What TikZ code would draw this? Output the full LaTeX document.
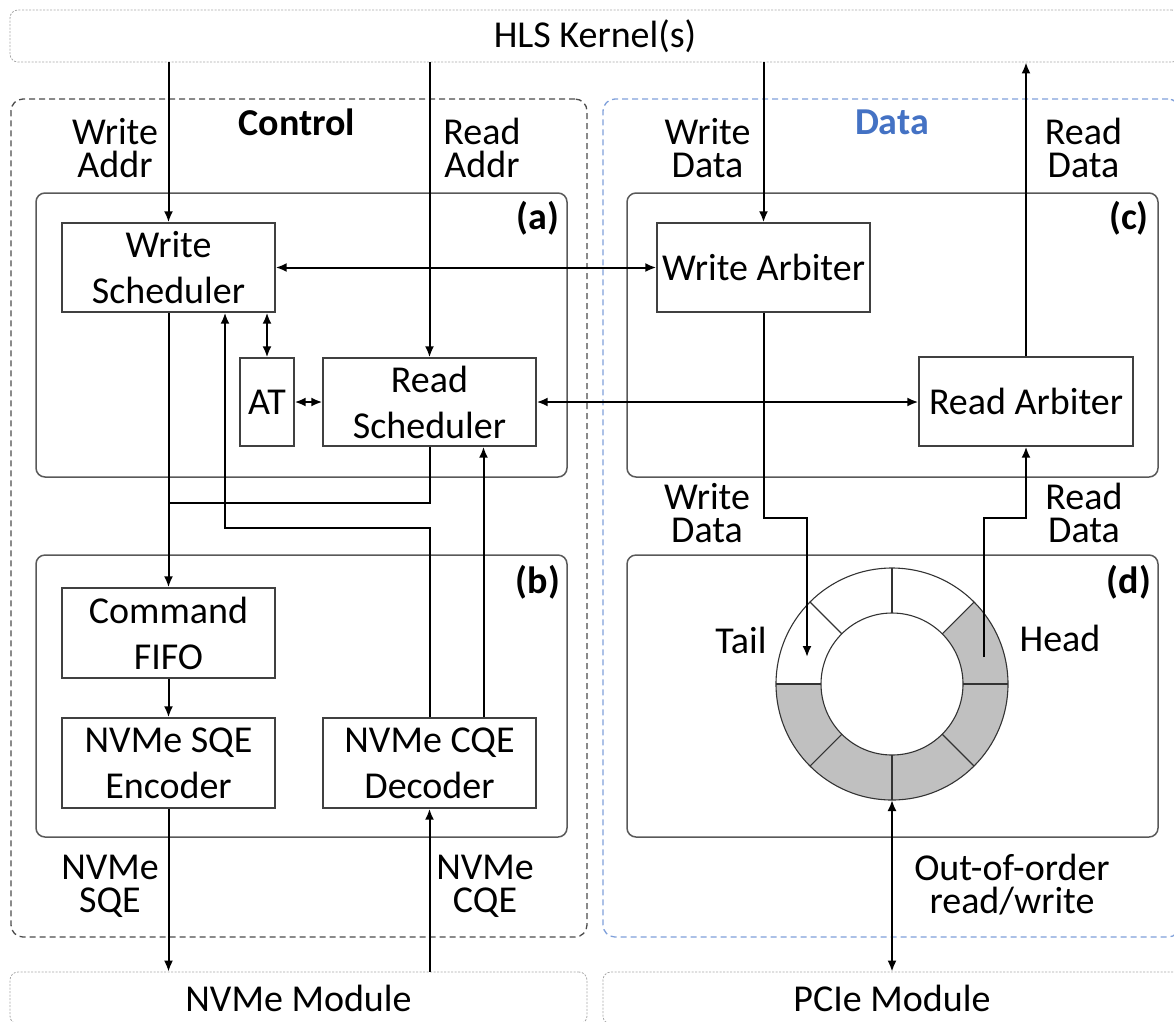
\documentclass[tikz,border=0pt]{standalone}
\usepackage{fontspec}
\setmainfont{Carlito}
\usetikzlibrary{arrows.meta}
\definecolor{dblue}{HTML}{4472C4}
\definecolor{lblue}{HTML}{7FA0DA}
\definecolor{ringgray}{HTML}{C0C0C0}
\begin{document}
\begin{tikzpicture}[x=1pt,y=-1pt,
  bar/.style={draw=black!35, dash pattern=on 2pt off 1.5pt, line width=0.8pt, rounded corners=8pt, inner sep=0pt, font=\fontsize{38}{46}\selectfont},
  ctrlbox/.style={draw=black!70, dash pattern=on 6pt off 4pt, line width=1.3pt, rounded corners=12pt, minimum width=576pt, minimum height=838pt, inner sep=0pt},
  databox/.style={draw=lblue, dash pattern=on 6pt off 4pt, line width=1.3pt, rounded corners=12pt, minimum width=577pt, minimum height=838pt, inner sep=0pt},
  grp/.style={draw=black!65, line width=1.5pt, rounded corners=9pt, minimum width=531pt, inner sep=0pt},
  blk/.style={draw=black!75, line width=1.4pt, fill=white, inner sep=0pt, minimum width=213pt, minimum height=89pt, align=center, font=\fontsize{38}{46}\selectfont},
  lbl/.style={align=center, inner sep=0pt, font=\fontsize{38}{33}\selectfont},
  title/.style={inner sep=0pt, font=\fontsize{38}{46}\selectfont\bfseries},
  tag/.style={inner sep=0pt, font=\fontsize{38}{46}\selectfont\bfseries},
  arr/.style={line width=2pt, -{Latex[length=11pt,width=9pt]}},
  darr/.style={line width=2pt, {Latex[length=11pt,width=9pt]}-{Latex[length=11pt,width=9pt]}},
  ln/.style={line width=2pt},
  ringline/.style={draw=black!80, line width=1.1pt}
]
\useasboundingbox (0,0) rectangle (1174,1021);

% outer bars
\node[bar, minimum width=1170pt, minimum height=52pt] (hls) at (595,36) {HLS Kernel(s)};
\node[bar, minimum width=577pt, minimum height=52pt] (nvme) at (298.5,998) {NVMe Module};
\node[bar, minimum width=578pt, minimum height=52pt] (pcie) at (892,998) {PCIe Module};

% dashed regions
\node[ctrlbox] (ctrl) at (299,518) {};
\node[databox] (data) at (891.5,518) {};
\node[title] (ctrlt) at (297,122) {Control};
\node[title, text=dblue] (datat) at (892,122) {Data};

% groups
\node[grp, minimum height=284pt] (ga) at (301.5,335) {};
\node[grp, minimum height=282pt] (gb) at (301.5,696) {};
\node[grp, minimum height=284pt] (gc) at (892.5,335) {};
\node[grp, minimum height=282pt] (gd) at (892.5,696) {};
\node[tag] (ta) at (538,218) {(a)};
\node[tag] (tb) at (538,582) {(b)};
\node[tag] (tc) at (1129,218) {(c)};
\node[tag] (td) at (1129,582) {(d)};

% blocks
\node[blk] (ws) at (168.5,267.5) {Write\\Scheduler};
\node[blk, minimum width=54pt, minimum height=88pt] (at) at (267,402) {AT};
\node[blk, minimum height=88pt] (rs) at (429.5,402) {Read\\Scheduler};
\node[blk, minimum height=90pt] (cf) at (168.5,633) {Command\\FIFO};
\node[blk, minimum height=90pt] (sqe) at (168.5,763) {NVMe SQE\\Encoder};
\node[blk, minimum height=90pt] (cqe) at (429.5,763) {NVMe CQE\\Decoder};
\node[blk] (wa) at (763.5,267.5) {Write Arbiter};
\node[blk, minimum width=214pt] (ra) at (1026,401.5) {Read Arbiter};

% labels
\node[lbl] (lwa) at (115,148) {Write\\Addr};
\node[lbl] (lra) at (482,148) {Read\\Addr};
\node[lbl] (lwd) at (707.5,148) {Write\\Data};
\node[lbl] (lrd) at (1083.5,148) {Read\\Data};
\node[lbl] (lwd2) at (707,513) {Write\\Data};
\node[lbl] (lrd2) at (1084,513) {Read\\Data};
\node[lbl] (lsqe) at (110,886) {NVMe\\SQE};
\node[lbl] (lcqe) at (485,886) {NVMe\\CQE};
\node[lbl] (looo) at (1012,885) {Out-of-order\\read/write};
\node[lbl] (ltail) at (741,640) {Tail};
\node[lbl] (lhead) at (1060,638) {Head};

% ring buffer
\begin{scope}[shift={(892,684)}, yscale=-1]
  \fill[ringgray] (180:116) arc[start angle=180, end angle=405, radius=116] -- (405:71) arc[start angle=405, end angle=180, radius=71] -- cycle;
  \draw[ringline] (0,0) circle[radius=116];
  \draw[ringline] (0,0) circle[radius=71];
  \foreach \a in {0,45,...,315} \draw[ringline] (\a:71) -- (\a:116);
\end{scope}
\coordinate (tail) at (807,657);
\coordinate (head) at (984,657);
\coordinate (ringb) at (892,800);

% connectors
\draw[arr] (hls.south -| ws.north) -- (ws.north);
\draw[arr] (hls.south -| rs.north) -- (rs.north);
\draw[arr] (hls.south -| wa.north) -- (wa.north);
\draw[arr] (ra.north) -- (hls.south -| ra.north);
\draw[darr] (ws.east) -- (wa.west);
\draw[darr] (ws.south -| at.north) -- (at.north);
\draw[darr] (at.east) -- (rs.west);
\draw[darr] (rs.east) -- (rs.east -| ra.west);

\coordinate (j1) at (168.5,503);
\draw[arr] (ws.south) -- (cf.north);
\draw[ln] (rs.south) |- (j1);
\coordinate (k1) at (225,528);
\draw[arr] (cqe.north) |- (k1) -- (k1 |- ws.south);
\coordinate (m1) at (483.5,0);
\draw[arr] (cqe.north -| m1) -- (rs.south -| m1);
\draw[arr] (cf.south) -- (sqe.north);
\draw[arr] (sqe.south) -- (sqe.south |- nvme.north);
\draw[arr] (cqe.south |- nvme.north) -- (cqe.south);

\coordinate (t1) at (807,518);
\draw[arr] (wa.south) |- (t1) -- (tail);
\coordinate (h1) at (984,518);
\draw[arr] (head) -- (h1) -| (ra.south);
\draw[darr] (ringb) -- (ringb |- pcie.north);
\end{tikzpicture}
\end{document}
